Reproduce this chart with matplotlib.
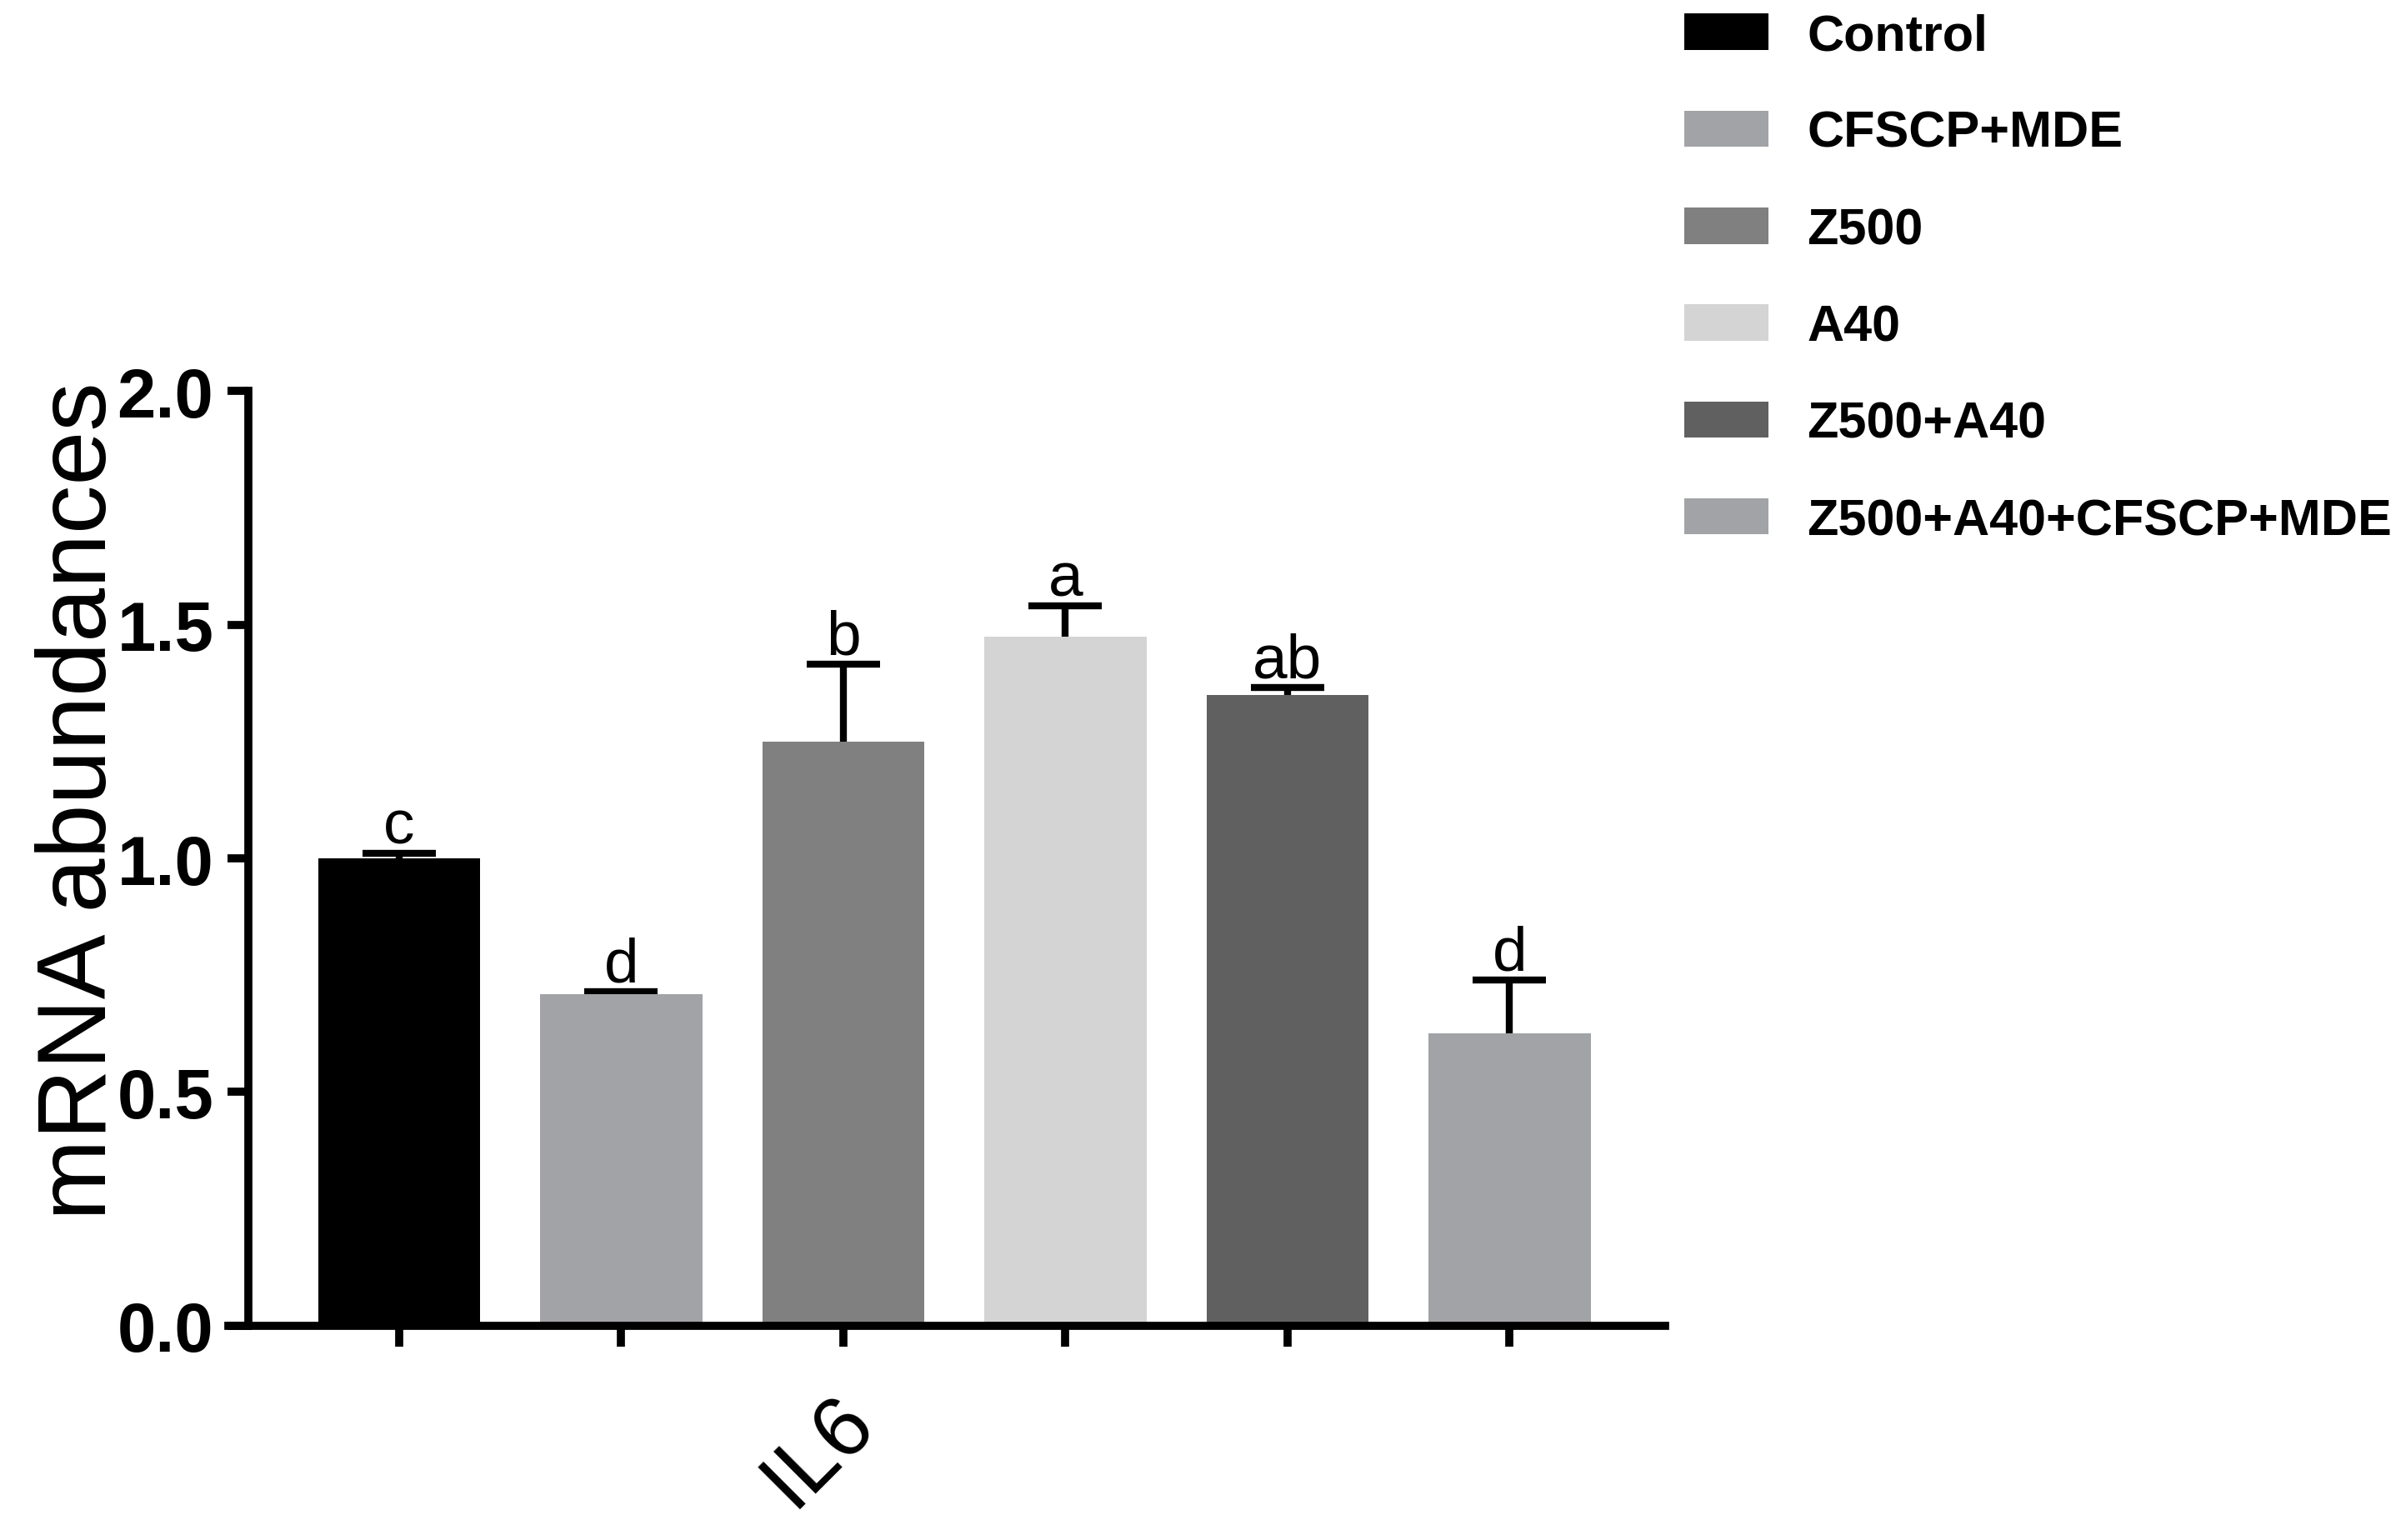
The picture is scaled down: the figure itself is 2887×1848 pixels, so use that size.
import numpy as np
import matplotlib
matplotlib.use("Agg")
from matplotlib import pyplot as plt
from matplotlib.patches import Patch

plt.rcParams['font.family'] = ['Liberation Sans', 'DejaVu Sans']

groups = ["Control", "CFSCP+MDE", "Z500", "A40", "Z500+A40", "Z500+A40+CFSCP+MDE"]
means = [1.00, 0.71, 1.25, 1.475, 1.35, 0.625]
errors = [0.01, 0.005, 0.165, 0.065, 0.015, 0.115]
letters = ["c", "d", "b", "a", "ab", "d"]
colors = ["#000000", "#a2a3a7", "#808080", "#d4d4d4", "#606060", "#a2a3a7"]
gene = "IL6"

fig = plt.figure(figsize=(28.87, 18.49), dpi=100)
ax = fig.add_axes([0.0949, 0.139, 0.692 - 0.0949, 0.7458 - 0.139])

x = np.arange(len(groups))
ax.bar(x, means, width=0.73, color=colors, zorder=2)
# lower half sits behind the bars, so only the upper whisker shows
ax.errorbar(x, means, yerr=errors, fmt='none', ecolor='black',
            elinewidth=6, capsize=32, capthick=6, zorder=1)

for xi, m, e, lab in zip(x, means, errors, letters):
    ax.annotate(lab, (xi, m + e), xytext=(0, 9), textcoords='offset points',
                ha='center', va='baseline', fontsize=54)

ax.set_xlim(-0.769, 5.70)
ax.set_ylim(0, 2.0)
ax.spines['top'].set_visible(False)
ax.spines['right'].set_visible(False)
ax.spines['left'].set_position(('data', -0.679))
ax.spines['left'].set_linewidth(7)
ax.spines['bottom'].set_linewidth(7)
ax.spines['left'].set_capstyle('projecting')

ax.set_yticks([0.0, 0.5, 1.0, 1.5, 2.0])
ax.set_yticklabels(["0.0", "0.5", "1.0", "1.5", "2.0"], fontsize=60, fontweight='bold')
ax.set_xticks(x)
ax.set_xticklabels([])
ax.tick_params(axis='both', direction='out', length=18, width=7)
ax.tick_params(axis='y', pad=12)

ax.set_ylabel("mRNA abundances", fontsize=84, va='center')
ax.yaxis.set_label_coords(-0.103, 0.562)

ax.text(1.89, -0.267, gene, rotation=45, ha='center', va='center',
        fontsize=74, clip_on=False)

handles = [Patch(facecolor=c, edgecolor='none') for c in colors]
fig.legend(handles, groups, loc='upper left', bbox_to_anchor=(0.700, 0.991),
           frameon=False, prop={'weight': 'bold', 'size': 44},
           handlelength=1.66, handleheight=0.72, handletextpad=0.75,
           labelspacing=0.97, borderpad=0, borderaxespad=0)

fig.savefig("out.png", dpi=100)
